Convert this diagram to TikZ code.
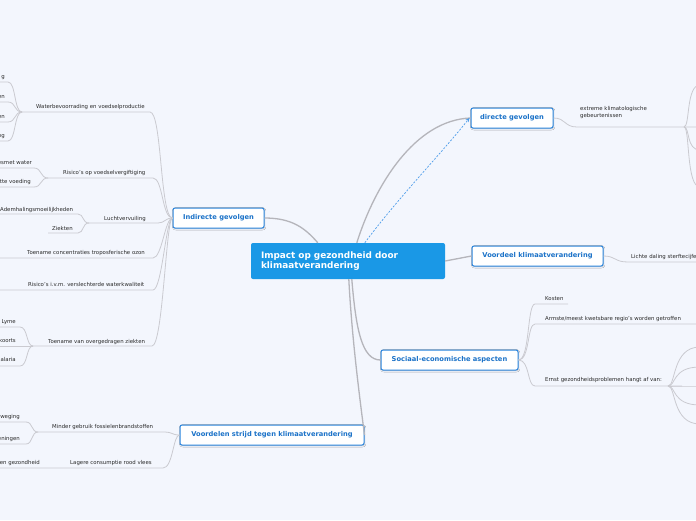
\documentclass[tikz,border=0pt]{standalone}
\usepackage{fontspec}
\setmainfont{DejaVu Sans}
\usetikzlibrary{arrows.meta, calc, shadows.blur}

\definecolor{bgpaper}{HTML}{F3F6FD}
\definecolor{corefill}{HTML}{1A98E6}
\definecolor{topicline}{HTML}{2C86DE}
\definecolor{topictext}{HTML}{1B72C8}
\definecolor{twiggrey}{HTML}{CACAD0}
\definecolor{boughgrey}{HTML}{B5B5BB}
\definecolor{leaftext}{HTML}{2A2A2A}
\definecolor{linkblue}{HTML}{4D9CEA}

\begin{document}
\begin{tikzpicture}[
    x=1pt, y=-1pt,
    core/.style={
        fill=corefill, rounded corners=2pt,
        minimum width=194pt, minimum height=36pt, text width=174pt,
        align=left, inner sep=0pt, text=white,
        font=\fontsize{8.9}{10.8}\selectfont\bfseries
    },
    topic/.style={
        draw=topicline, line width=1pt, fill=white, rounded corners=2pt,
        minimum height=20pt, inner sep=0pt, text=topictext,
        font=\fontsize{6.7}{8}\selectfont\bfseries,
        blur shadow={shadow xshift=0.6pt, shadow yshift=-0.8pt, shadow opacity=25, shadow blur steps=4, shadow blur radius=1.2pt}
    },
    leaf/.style={anchor=base west, inner sep=0pt, text=leaftext, font=\fontsize{5.4}{6.6}\selectfont, align=left},
    cut/.style={leaf, anchor=base east},
    twig/.style={draw=twiggrey, line width=0.8pt},
    bough/.style={draw=boughgrey, line width=1.3pt},
    link/.style={draw=linkblue, line width=0.7pt, dash pattern=on 2pt off 1.5pt, -{Stealth[length=4pt, width=4pt]}}
]

\fill[bgpaper] (0,0) rectangle (696,520);
\clip (0,0) rectangle (696,520);

% Centre and main topics
\node[core] (core) at (348,261) {Impact op gezondheid door\\klimaatverandering};
\node[topic, minimum width=82pt] (direct) at (512,118) {directe gevolgen};
\node[topic, minimum width=91pt] (indirect) at (218.5,218) {Indirecte gevolgen};
\node[topic, minimum width=131pt] (upside) at (537.5,256) {Voordeel klimaatverandering};
\node[topic, minimum width=137pt] (social) at (449.5,360) {Sociaal-economische aspecten};
\node[topic, minimum width=184pt] (mitigate) at (272,435) {Voordelen strijd tegen klimaatverandering};

\draw[bough] ($(core.north west)+(106,0)$) .. controls (375,185) and (415,120) .. (direct.west);
\draw[link] ($(core.north west)+(114,0)$) .. controls (398,198) and (440,155) .. ($(direct.west)+(-1,0)$);
\draw[bough] (indirect.east) .. controls (292,218) and (305,228) .. ($(core.north west)+(67,0)$);
\draw[bough] (core.east) -- (upside.west);
\draw[bough] ($(core.south west)+(101,0)$) .. controls (356,330) and (362,360) .. (social.west);
\draw[bough] ($(core.south west)+(98,0)$) .. controls (352,340) and (360,400) .. (mitigate.east);

%%%%%%%%%%%%%%%%%%%%%
% Directe gevolgen
%%%%%%%%%%%%%%%%%%%%%
\coordinate (extA) at (577,127);
\coordinate (extB) at (684,127);
\node[leaf] (extreme) at (580,117) {extreme klimatologische\\gebeurtenissen};
\draw[twig] (direct.east) .. controls (566,118) and (564,127) .. (extA) -- (extB) -- (700,127);
\foreach \yy in {85,150,187}
    \draw[twig] (extB) .. controls (690,127) and (686,\yy) .. (700,\yy);

%%%%%%%%%%%%%%%%%%%%%
% Voordeel klimaatverandering
%%%%%%%%%%%%%%%%%%%%%
\coordinate (deathA) at (628,262);
\node[leaf] (death) at (631,258) {Lichte daling sterftecijfers};
\draw[twig] (upside.east) .. controls (616,256) and (614,262) .. (deathA) -- (700,262);

%%%%%%%%%%%%%%%%%%%%%
% Sociaal-economische aspecten
%%%%%%%%%%%%%%%%%%%%%
\coordinate (costA) at (535,304);
\coordinate (costB) at (568,304);
\coordinate (poorA) at (535,324);
\coordinate (severeA) at (535,386);
\coordinate (severeB) at (668,386);
\node[leaf] (cost) at (545,300) {Kosten};
\node[leaf] (poor) at (545,320) {Armste/meest kwetsbare regio's worden getroffen};
\node[leaf] (severe) at (545,381.5) {Ernst gezondheidsproblemen hangt af van:};
\draw[twig] (social.east) .. controls (530,360) and (527,304) .. (costA) -- (costB);
\draw[twig] (social.east) .. controls (530,360) and (527,324) .. (poorA) -- (700,324);
\draw[twig] (social.east) .. controls (530,360) and (527,386) .. (severeA) -- (severeB) -- (682,386);
\foreach \yy in {347,367,386,405,424}
    \draw[twig] (severeB) .. controls (676,386) and (672,\yy) .. (700,\yy);

%%%%%%%%%%%%%%%%%%%%%
% Indirecte gevolgen
%%%%%%%%%%%%%%%%%%%%%
\coordinate (waterA) at (22,112);
\coordinate (waterB) at (150,112);
\node[leaf] (water) at (36,108) {Waterbevoorrading en voedselproductie};
\draw[twig] (indirect.west) .. controls (160,218) and (162,112) .. (waterB) -- (waterA);
\foreach \yy/\txt in {82/g, 102/en, 122/en, 141/ng} {
    \draw[twig] (waterA) .. controls (14,112) and (16,\yy) .. (8,\yy) -- (-5,\yy);
    \node[cut] at (5,\yy-4) {\txt};
}

\coordinate (foodA) at (48,178);
\coordinate (foodB) at (153,178);
\node[leaf] (food) at (63,174) {Risico's op voedselvergiftiging};
\draw[twig] (indirect.west) .. controls (162,218) and (163,178) .. (foodB) -- (foodA);
\draw[twig] (foodA) .. controls (40,178) and (42,168) .. (34,168) -- (-5,168);
\draw[twig] (foodA) .. controls (40,178) and (42,187) .. (34,187) -- (-5,187);
\node[cut] at (32,164) {esmet water};
\node[cut] at (31,183) {tte voeding};

\coordinate (airA) at (89,223);
\coordinate (airB) at (158,223);
\coordinate (breathB) at (78,214);
\coordinate (illB) at (78,233);
\node[leaf] (air) at (104,220) {Luchtvervuiling};
\node[leaf] (breath) at (0,211) {Ademhalingsmoeilijkheden};
\node[leaf] (ill) at (52,230) {Ziekten};
\draw[twig] (indirect.west) .. controls (165,218) and (165,223) .. (airB) -- (airA);
\draw[twig] (airA) .. controls (82,223) and (84,214) .. (breathB) -- (-5,214);
\draw[twig] (airA) .. controls (82,223) and (84,233) .. (illB) -- (48,233);

\coordinate (ozoneB) at (153,258);
\node[leaf] (ozone) at (27,254) {Toename concentraties troposferische ozon};
\draw[twig] (indirect.west) .. controls (165,218) and (162,258) .. (ozoneB) -- (-5,258);

\coordinate (qualityB) at (153,290);
\node[leaf] (quality) at (28,286) {Risico's i.v.m. verslechterde waterkwaliteit};
\draw[twig] (indirect.west) .. controls (166,218) and (162,290) .. (qualityB) -- (-5,290);

\coordinate (vectorA) at (33,346);
\coordinate (vectorB) at (152,346);
\node[leaf] (vector) at (48,343) {Toename van overgedragen ziekten};
\draw[twig] (indirect.west) .. controls (166,218) and (163,346) .. (vectorB) -- (vectorA);
\draw[twig] (vectorA) .. controls (26,346) and (28,327) .. (20,327) -- (-5,327);
\draw[twig] (vectorA) -- (-5,346);
\draw[twig] (vectorA) .. controls (26,346) and (28,366) .. (20,366) -- (-5,366);
\node[cut] at (16,323) {Lyme};
\node[cut] at (16,342) {koorts};
\node[cut] at (16,361) {Malaria};

%%%%%%%%%%%%%%%%%%%%%
% Voordelen strijd tegen klimaatverandering
%%%%%%%%%%%%%%%%%%%%%
\coordinate (fossilA) at (38,432);
\coordinate (fossilB) at (165,432);
\node[leaf] (fossil) at (52,428) {Minder gebruik fossielenbrandstoffen};
\draw[twig] (mitigate.west) .. controls (172,435) and (172,432) .. (fossilB) -- (fossilA);
\draw[twig] (fossilA) .. controls (31,432) and (33,422) .. (26,422) -- (-5,422);
\draw[twig] (fossilA) .. controls (31,432) and (33,444) .. (26,444) -- (-5,444);
\node[cut] at (20,418) {weging};
\node[cut] at (20,440) {eningen};

\coordinate (meatB) at (163,468);
\node[leaf] (meat) at (70,464) {Lagere consumptie rood vlees};
\node[cut] (health) at (40,464) {en gezondheid};
\draw[twig] (mitigate.west) .. controls (173,435) and (173,468) .. (meatB) -- (-5,468);

\end{tikzpicture}
\end{document}
